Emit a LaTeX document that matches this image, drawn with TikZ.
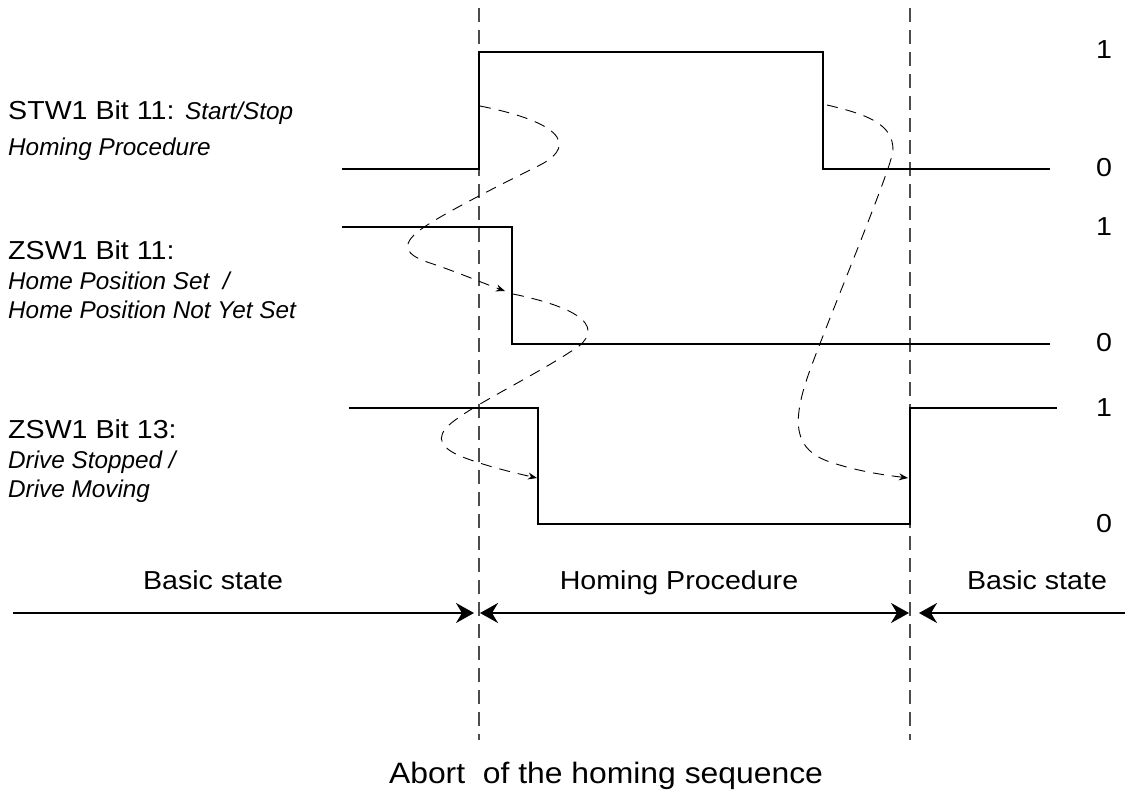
\documentclass[tikz,border=0pt]{standalone}
\usepackage{fontspec}
\setmainfont{Liberation Sans}
\newfontfamily\wideface{Liberation Sans}[FakeStretch=1.1]
\newfontfamily\titleface{Liberation Sans}[FakeStretch=1.08]
\usetikzlibrary{arrows.meta}
\newcommand\rgfont{\wideface\fontsize{26}{30}\selectfont}
\newcommand\itfont{\rmfamily\fontsize{24.3}{29}\selectfont\itshape}
\tikzset{bigtip/.tip={Stealth[length=18pt,width=20pt,inset=6pt]}}
\begin{document}
\begin{tikzpicture}[x=1pt,y=-1pt,
  sig/.style={line width=2pt, line join=miter},
  guide/.style={line width=1.1pt, draw=black!70, dash pattern=on 14pt off 8pt},
  flow/.style={line width=0.9pt, dash pattern=on 11pt off 8pt, -{Stealth[length=9pt,width=7pt]}},
  span/.style={line width=2pt},
  lbl/.style={anchor=base west, inner sep=0pt, font=\rgfont},
  ilbl/.style={anchor=base west, inner sep=0pt, font=\itfont},
  lvl/.style={anchor=center, inner sep=0pt, font=\rgfont},
  phase/.style={anchor=base, inner sep=0pt, font=\rgfont},
  ttl/.style={anchor=base, inner sep=0pt, font=\titleface\fontsize{29.5}{34}\selectfont}]
\useasboundingbox (0,0) rectangle (1125,790);

% guide lines
\coordinate (g1t) at (479,8);  \coordinate (g1b) at (479,740);
\coordinate (g2t) at (910,8);  \coordinate (g2b) at (910,740);
\draw[guide] (g1t) -- (g1b);
\draw[guide] (g2t) -- (g2b);

% signal 1: STW1 Bit 11
\draw[sig] (342,169) -- (479,169) -- (479,52) -- (823,52) -- (823,169) -- (1050,169);
% signal 2: ZSW1 Bit 11
\draw[sig] (342,227) -- (512,227) -- (512,344) -- (1050,344);
% signal 3: ZSW1 Bit 13
\draw[sig] (349,408) -- (538,408) -- (538,524) -- (910,524) -- (910,408) -- (1057,408);

% level labels
\node[lvl] (l1a) at (1104,50) {1};
\node[lvl] (l0a) at (1104,168) {0};
\node[lvl] (l1b) at (1104,227) {1};
\node[lvl] (l0b) at (1104,343) {0};
\node[lvl] (l1c) at (1104,408) {1};
\node[lvl] (l0c) at (1104,524) {0};

% left labels
\node[lbl] (s1a) at (8,119) {STW1 Bit 11: {\itfont Start/Stop}};
\node[ilbl] (s1b) at (8,155) {Homing Procedure};
\node[lbl] (s2a) at (8,259) {ZSW1 Bit 11:};
\node[ilbl] (s2b) at (8,289) {Home Position Set\ \ /};
\node[ilbl] (s2c) at (8,318) {Home Position Not Yet Set};
\node[lbl] (s3a) at (8,438) {ZSW1 Bit 13:};
\node[ilbl] (s3b) at (8,468) {Drive Stopped /};
\node[ilbl] (s3c) at (8,497) {Drive Moving};

% dashed cause-effect curves
\coordinate (c1s) at (480,106); \coordinate (c1e) at (505,291);
\draw[flow] (c1s) .. controls (575,125) and (570,150) .. (540,165)
  .. controls (500,185) and (440,215) .. (420,230)
  .. controls (400,245) and (405,255) .. (430,263)
  .. controls (460,273) and (485,284) .. (c1e);

\coordinate (c2s) at (513,294); \coordinate (c2e) at (537,478);
\draw[flow] (c2s) .. controls (600,312) and (600,335) .. (570,352)
  .. controls (540,372) and (480,402) .. (458,418)
  .. controls (436,433) and (435,445) .. (460,456)
  .. controls (485,466) and (515,473) .. (c2e);

\coordinate (c3s) at (827,105); \coordinate (c3e) at (908,478);
\draw[flow] (c3s) .. controls (870,115) and (893,125) .. (893,150)
  .. controls (893,165) and (830,315) .. (810,370)
  .. controls (790,425) and (795,450) .. (830,462)
  .. controls (860,472) and (885,475) .. (c3e);

% phase labels
\node[phase] (p1) at (213,589) {Basic state};
\node[phase] (p2) at (679,589) {Homing Procedure};
\node[phase] (p3) at (1037,589) {Basic state};

% phase arrows
\coordinate (a0) at (13,613);
\coordinate (a1) at (474,613);
\coordinate (a2) at (480,613);
\coordinate (a3) at (909,613);
\coordinate (a4) at (919,613);
\coordinate (a5) at (1125,613);
\draw[span,-bigtip] (a0) -- (a1);
\draw[span,bigtip-bigtip] (a2) -- (a3);
\draw[span,-bigtip] (a5) -- (a4);

% title
\node[ttl] (title) at (606,783) {Abort\ \ of the homing sequence};
\end{tikzpicture}
\end{document}
